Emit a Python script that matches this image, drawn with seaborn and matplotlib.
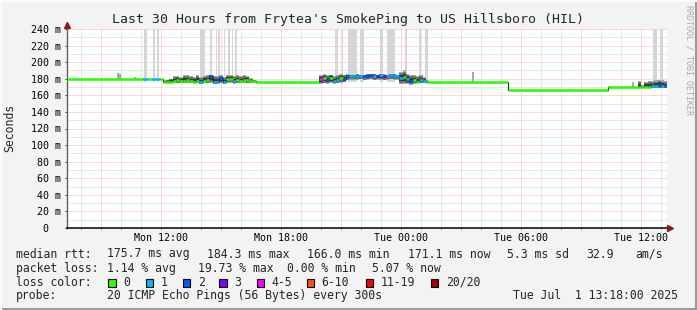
import numpy as np
import pandas as pd
import matplotlib
matplotlib.use("Agg")
import matplotlib.pyplot as plt
import matplotlib.dates as mdates
from matplotlib.ticker import MultipleLocator, FuncFormatter, FixedLocator
from matplotlib.patches import Rectangle
from matplotlib.lines import Line2D
import seaborn as sns

# ---------------- data ----------------
t_start = "2025-06-30 07:18"
t_end = "2025-07-01 13:18"

# flat stretches of the median rtt (start time, ms, lost pings of 20)
flat_time = ["2025-06-30 07:18", "2025-06-30 11:07", "2025-06-30 11:22", "2025-06-30 11:32",
             "2025-06-30 11:57", "2025-06-30 16:45", "2025-07-01 01:25", "2025-07-01 05:20",
             "2025-07-01 10:20"]
flat_rtt = [179.2, 179.2, 179.2, 179.2, 179.2, 176.2, 176.4, 166.0, 170.4]
flat_loss = [0, 1, 0, 1, 0, 0, 0, 0, 0]

# noisy stretches, 10-minute bins: median, lost pings, smoke low / high (ms)
a_start = "2025-06-30 12:05"
a_rtt = [176.0, 176.2, 176.5, 177.5, 178.0, 176.8, 177.6, 178.4, 177.0, 176.6, 177.8, 175.5, 177.2, 178.0,
         183.0, 175.6, 176.0, 180.5, 175.5, 179.8, 180.2, 177.5, 178.6, 177.2, 179.0, 178.2, 177.0, 176.8]
a_loss = [0, 0, 0, 0, 0, 0, 0, 0, 0, 0, 0, 1, 0, 0, 2, 1, 1, 2, 1, 0, 0, 1, 0, 0, 0, 0, 0, 0]
a_hi = [178, 179, 180, 183, 183.5, 182.5, 184, 184.5, 183, 182, 184, 182, 183.5, 184.5,
        185, 183, 183.5, 184, 182.5, 184, 184.5, 183, 184, 183, 184, 183.5, 181, 179]
a_lo = [175, 175.2, 175.4, 175, 174.8, 175, 174.6, 175, 175.2, 174.8, 175, 173.8, 174.6, 175,
        175.2, 173.8, 174, 174.5, 173.6, 174.8, 175, 174.2, 174.8, 175, 175, 174.8, 175.2, 175.4]

c_start = "2025-06-30 19:55"
c_rtt = [179.5, 181.0, 178.5, 180.5, 177.5, 179.0, 181.5, 180.0,
         183.5, 183.7, 183.7, 183.8, 183.6, 183.7, 183.9, 184.0, 183.8, 183.7, 184.3, 183.6, 183.7, 184.0,
         183.8, 183.5,
         181.0, 182.5, 179.5, 177.0, 178.5, 176.5, 178.0, 176.8, 176.5]
c_loss = [4, 0, 2, 0, 1, 1, 0, 2,
          2, 1, 1, 1, 1, 2, 2, 2, 1, 3, 1, 3, 1, 1, 1, 1,
          1, 0, 1, 2, 0, 0, 1, 1, 0]
c_hi = [185, 186, 184, 185, 183, 184, 186, 185,
        185.5, 185, 185, 185.5, 185, 185, 185.5, 186, 185.5, 185, 186, 185.5, 185, 185.5, 185.5, 185,
        188, 190, 186, 185, 184, 183, 184, 182, 178]
c_lo = [174, 174.5, 174, 175, 174, 174.5, 175, 176,
        178, 179, 178.5, 179, 179.5, 178, 179, 179.5, 178, 178.5, 179, 178, 179, 179.5, 178.5, 179,
        174, 173.5, 174, 173, 174, 174.5, 175, 175, 175.5]

d_start = "2025-07-01 11:50"
d_rtt = [170.6, 170.4, 170.5, 170.6, 171.5, 171.0, 172.0, 171.2, 171.1]
d_loss = [0, 0, 0, 0, 1, 1, 2, 1, 2]
d_hi = [177, 172, 176, 177, 177, 178, 179, 178, 177]
d_lo = [169.5, 169.8, 169.6, 169.5, 169, 168.8, 168.5, 169, 169]

# small smoke bumps in the quiet stretches
bump_time = ["2025-06-30 09:47", "2025-06-30 09:53", "2025-06-30 10:39", "2025-07-01 03:32",
             "2025-07-01 08:20", "2025-07-01 11:33"]
bump_lo = [179.2, 179.2, 179.2, 176.4, 166.0, 170.4]
bump_hi = [186.5, 185.5, 182.0, 188.5, 168.0, 175.5]

# tall outlier pings (light smoke reaching past the top)
spike_start = ["2025-06-30 11:09", "2025-06-30 11:36", "2025-06-30 11:48", "2025-06-30 13:57",
               "2025-06-30 14:27", "2025-06-30 14:45", "2025-06-30 14:51", "2025-06-30 15:09",
               "2025-06-30 15:21", "2025-06-30 15:33", "2025-06-30 15:42", "2025-06-30 20:42",
               "2025-06-30 21:03", "2025-06-30 21:21", "2025-06-30 21:57", "2025-06-30 22:57",
               "2025-06-30 23:18", "2025-07-01 00:12", "2025-07-01 00:54", "2025-07-01 01:12",
               "2025-07-01 12:36", "2025-07-01 12:57"]
spike_end = ["2025-06-30 11:18", "2025-06-30 11:42", "2025-06-30 11:54", "2025-06-30 14:12",
             "2025-06-30 14:33", "2025-06-30 14:48", "2025-06-30 14:57", "2025-06-30 15:12",
             "2025-06-30 15:27", "2025-06-30 15:36", "2025-06-30 15:48", "2025-06-30 20:51",
             "2025-06-30 21:06", "2025-06-30 21:48", "2025-06-30 22:09", "2025-06-30 23:06",
             "2025-06-30 23:42", "2025-07-01 00:18", "2025-07-01 01:00", "2025-07-01 01:21",
             "2025-07-01 12:48", "2025-07-01 13:06"]
spike_top = [310, 290, 320, 305, 280, 300, 310, 295, 330, 285, 300, 315,
             290, 320, 305, 280, 330, 300, 290, 310, 300, 295]

loss_labels = ["0", "1", "2", "3", "4-5", "6-10", "11-19", "20/20"]
loss_colors = ["#26ff00", "#00b8ff", "#0059ff", "#7e00ff", "#ff00ff", "#ff5500", "#ff0000", "#a10000"]

y_ticks = [0, 20, 40, 60, 80, 100, 120, 140, 160, 180, 200, 220, 240]

title = "Last 30 Hours from Frytea's SmokePing to US Hillsboro (HIL)"
row1_x = [16, 107.3, 207.3, 307.3, 407.7, 507.3, 586.7, 635]
row1_txt = ["median rtt:", "175.7 ms avg", "184.3 ms max", "166.0 ms min", "171.1 ms now",
            "5.3 ms sd", "32.9", "am/s"]
row2_x = [16, 107.3, 198.5, 287.3, 372.3]
row2_txt = ["packet loss:", "1.14 % avg", "19.73 % max", "0.00 % min", "5.07 % now"]
box_x = [108.3, 145.7, 182.7, 219.3, 256.7, 306.7, 365.7, 430.7]
row4_txt = ["probe:", "20 ICMP Echo Pings (56 Bytes) every 300s", "Tue Jul  1 13:18:00 2025"]
row4_x = [16, 107.3, 513.3]

# ---------------- helpers ----------------
W, H = 697, 310
MONO = ["DejaVu Sans Mono"]


def num(ts):
    return mdates.date2num(pd.to_datetime(ts))


def loss_idx(n):
    if n <= 3:
        return n
    if n <= 5:
        return 4
    if n <= 10:
        return 5
    if n <= 19:
        return 6
    return 7


BIN = 10 / 1440.0
x0, x1 = num(t_start), num(t_end)

regions = []
for start, rtt, loss, lo, hi in [(a_start, a_rtt, a_loss, a_lo, a_hi),
                                 (c_start, c_rtt, c_loss, c_lo, c_hi),
                                 (d_start, d_rtt, d_loss, d_lo, d_hi)]:
    tt = num(start) + BIN * np.arange(len(rtt))
    regions.append(pd.DataFrame({"t": tt, "rtt": rtt, "loss": loss, "lo": lo, "hi": hi}))
smoke = pd.concat(regions, ignore_index=True)

steps = pd.concat([pd.DataFrame({"t": [num(s) for s in flat_time], "rtt": flat_rtt, "loss": flat_loss}),
                   smoke[["t", "rtt", "loss"]]], ignore_index=True).sort_values("t").reset_index(drop=True)
steps["t_next"] = list(steps["t"].iloc[1:]) + [x1 + 0.02]

# ---------------- figure ----------------
sns.set_theme(style="white")
plt.rcParams["font.family"] = MONO
plt.rcParams["axes.unicode_minus"] = False

fig = plt.figure(figsize=(W / 100, H / 100), dpi=100, facecolor="#f3f3f3")
ax = fig.add_axes([67 / W, (H - 228) / H, 600 / W, 199 / H])
ax.set_facecolor("white")

# spikes
for s, e, top in zip(spike_start, spike_end, spike_top):
    ax.bar(num(s), top - 176, width=num(e) - num(s), bottom=176, align="edge",
           color="#d6d6d6", linewidth=0, zorder=2)

# smoke bars
for _, r in smoke.iterrows():
    m = r["rtt"]
    ax.bar(r["t"], r["hi"] - r["lo"], width=BIN, bottom=r["lo"], align="edge",
           color="#a8a8a8", linewidth=0, zorder=3)
    lo2, hi2 = m - (m - r["lo"]) * 0.85, m + (r["hi"] - m) * 0.8
    ax.bar(r["t"], hi2 - lo2, width=BIN, bottom=lo2, align="edge",
           color="#707070", linewidth=0, zorder=3)
    lo3, hi3 = m - (m - r["lo"]) * 0.55, m + (r["hi"] - m) * 0.5
    ax.bar(r["t"], hi3 - lo3, width=BIN, bottom=lo3, align="edge",
           color="#383838", linewidth=0, zorder=3)
for t, lo, hi in zip(bump_time, bump_lo, bump_hi):
    ax.bar(num(t), hi - lo, width=6 / 1440, bottom=lo, align="edge",
           color="#a8a8a8", linewidth=0, zorder=3)

# median: dark connectors (seaborn) + loss coloured steps
sns.lineplot(data=steps, x="t", y="rtt", estimator=None, drawstyle="steps-post",
             color="#202020", linewidth=0.8, ax=ax, zorder=4)
for _, r in steps.iterrows():
    ax.hlines(r["rtt"], r["t"], r["t_next"], color=loss_colors[loss_idx(int(r["loss"]))],
              linewidth=1.8, zorder=5, capstyle="butt")

ax.set_xlim(x0, x1)
ax.set_ylim(0, 240)
ax.set_xlabel("")
ax.set_ylabel("")

# axes / grid
ax.xaxis.set_major_locator(mdates.HourLocator(byhour=range(0, 24, 3)))
ax.xaxis.set_minor_locator(mdates.HourLocator())
ax.xaxis.set_major_formatter(FuncFormatter(
    lambda v, p: mdates.num2date(v).strftime("%a %H:%M") if mdates.num2date(v).hour % 6 == 0 else ""))
ax.yaxis.set_major_locator(FixedLocator(y_ticks))
ax.yaxis.set_minor_locator(MultipleLocator(10))
ax.yaxis.set_major_formatter(FuncFormatter(lambda v, p: "0  " if v == 0 else f"{int(v)} m"))

ax.grid(which="minor", color="#d2d2d2", linestyle=(0, (1, 1)), linewidth=0.72, zorder=0)
ax.grid(which="major", color="#ffb0b0", linestyle=(0, (1, 1)), linewidth=0.72, zorder=0)
ax.set_axisbelow(True)

ax.tick_params(axis="x", which="major", direction="out", length=1.6, width=0.7, color="#ff8080",
               pad=2, labelsize=7.2, labelcolor="black", bottom=True)
ax.tick_params(axis="x", which="minor", direction="out", length=1.6, width=0.7, color="#b0b0b0", bottom=True)
ax.tick_params(axis="y", which="major", direction="out", length=1.6, width=0.7, color="#404040",
               pad=3, labelsize=7.2, labelcolor="black", left=True)
ax.tick_params(axis="y", which="minor", length=0)
for lab in ax.get_xticklabels() + ax.get_yticklabels():
    lab.set_family(MONO)

for side in ["top", "right"]:
    ax.spines[side].set_visible(False)
ax.spines["left"].set_color("#606060")
ax.spines["left"].set_linewidth(1.0)
ax.spines["bottom"].set_color("black")
ax.spines["bottom"].set_linewidth(1.1)

# axis arrows
ax.plot([x0], [245], marker="^", markersize=4.5, color="#8b1a1a", clip_on=False, zorder=6)
ax.plot([x1 + 8 / 1440], [0], marker=">", markersize=4.5, color="#8b1a1a", clip_on=False, zorder=6)

# ---------------- texts ----------------
def fx(x):
    return x / W


def fy(y):
    return 1 - y / H


fig.text(fx(348), fy(19), title, ha="center", va="center", fontsize=9.5, family=MONO)
fig.text(fx(10), fy(128), "Seconds", ha="center", va="center", rotation=90, fontsize=8.3, family=MONO)
fig.text(fx(688.5), fy(60), "RRDTOOL / TOBI OETIKER", ha="center", va="center", rotation=270,
         fontsize=6, color="#aaaaaa", family=MONO)

for x, t in zip(row1_x, row1_txt):
    fig.text(fx(x), fy(254), t, ha="left", va="center", fontsize=8.3, family=MONO)
for x, t in zip(row2_x, row2_txt):
    fig.text(fx(x), fy(268.3), t, ha="left", va="center", fontsize=8.3, family=MONO)
fig.text(fx(16), fy(282.3), "loss color:", ha="left", va="center", fontsize=8.3, family=MONO)
for bx, lab, col in zip(box_x, loss_labels, loss_colors):
    fig.patches.append(Rectangle((fx(bx), fy(286.5)), 7.5 / W, 7.5 / H, transform=fig.transFigure,
                                 facecolor=col, edgecolor="black", linewidth=0.8, figure=fig))
    fig.text(fx(bx + 15), fy(282.3), lab, ha="left", va="center", fontsize=8.3, family=MONO)
for x, t in zip(row4_x, row4_txt):
    fig.text(fx(x), fy(295.7), t, ha="left", va="center", fontsize=8.3, family=MONO)

# 3d border
fig.add_artist(Line2D([0, 1], [fy(309), fy(309)], transform=fig.transFigure, color="#9a9a9a", lw=1.5))
fig.add_artist(Line2D([fx(696), fx(696)], [0, 1], transform=fig.transFigure, color="#9a9a9a", lw=1.5))
fig.add_artist(Line2D([0, 1], [fy(0.5), fy(0.5)], transform=fig.transFigure, color="#fcfcfc", lw=1.5))
fig.add_artist(Line2D([fx(0.5), fx(0.5)], [0, 1], transform=fig.transFigure, color="#fcfcfc", lw=1.5))

fig.savefig("out.png", dpi=100, facecolor=fig.get_facecolor())
